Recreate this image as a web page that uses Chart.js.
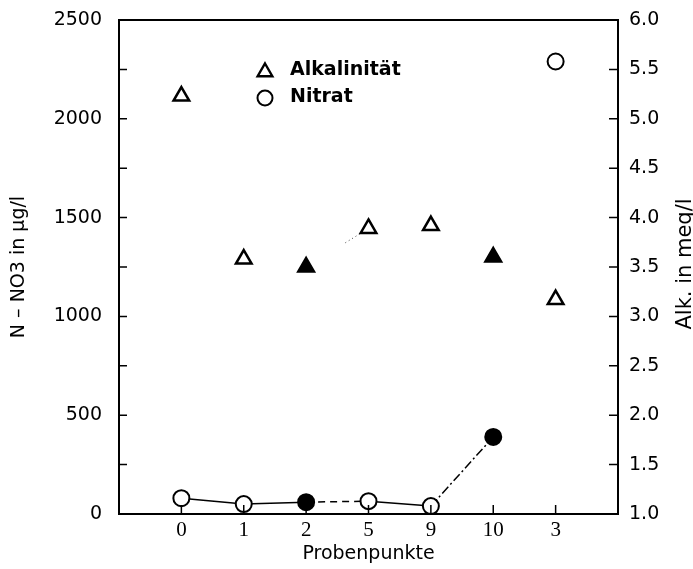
<!DOCTYPE html>
<html>
<head>
<meta charset="utf-8">
<script src="https://cdn.jsdelivr.net/npm/chart.js@4.4.0/dist/chart.umd.min.js"></script>
<style>
  html, body { margin: 0; padding: 0; background: #fff; }
</style>
</head>
<body>
<canvas id="chart" width="693" height="569"></canvas>
<script>
// Probenpunkte in the order they are plotted
var categories = ['0', '1', '2', '5', '9', '10', '3'];
// N - NO3 in ug/l (left axis)
var nitrate = [80, 50, 60, 65, 40, 390, 2290];
// Alkalinitaet in meq/l (right axis)
var alkalinity = [5.23, 3.58, 3.50, 3.89, 3.92, 3.60, 3.17];
// points that are drawn with a filled marker
var filledPoints = ['2', '10'];

// axis ranges
var nitrateMin = 0, nitrateMax = 2500, nitrateStep = 500, nitrateMinor = 250;
var alkMin = 1.0, alkMax = 6.0, alkStep = 0.5;

function toPoints(values) {
    return categories.map(function (c, i) { return { x: i, y: values[i] }; });
}
function markerFill() {
    return categories.map(function (c) { return filledPoints.indexOf(c) >= 0 ? '#000' : '#fff'; });
}

// nitrate line style between point i and i+1
function nitrateDash(ctx) {
    var i = ctx.p0DataIndex;
    if (i === 2) return [7, 5];
    if (i === 4) return [9, 3, 2, 3];
    return [];
}

// keep the plot box where the reference has it
function noScalePadding(s) {
    s.paddingTop = 0;
    s.paddingBottom = 0;
    s.paddingLeft = 0;
    s.paddingRight = 0;
}

// inner ticks, frame, right axis title and legend
var framePlugin = {
    id: 'frame',
    afterDraw: function (chart) {
        var ctx = chart.ctx;
        var a = chart.chartArea;
        var yL = chart.scales.yL, yR = chart.scales.yR, x = chart.scales.x;
        ctx.save();
        ctx.strokeStyle = '#000';
        ctx.lineWidth = 2;
        ctx.strokeRect(a.left, a.top, a.right - a.left, a.bottom - a.top);

        ctx.lineWidth = 1.5;
        ctx.beginPath();
        for (var v = nitrateMin + nitrateMinor; v < nitrateMax; v += nitrateMinor) {
            var py = yL.getPixelForValue(v);
            ctx.moveTo(a.left, py);
            ctx.lineTo(a.left + 8, py);
        }
        for (var w = alkMin + alkStep; w < alkMax; w += alkStep) {
            var qy = yR.getPixelForValue(w);
            ctx.moveTo(a.right, qy);
            ctx.lineTo(a.right - 9, qy);
        }
        for (var i = 0; i < categories.length; i++) {
            var px = x.getPixelForValue(i);
            ctx.moveTo(px, a.bottom);
            ctx.lineTo(px, a.bottom - 9);
        }
        ctx.stroke();

        // right axis title, reading bottom to top
        ctx.fillStyle = '#000';
        ctx.font = '21px "DejaVu Sans"';
        ctx.textAlign = 'center';
        ctx.textBaseline = 'middle';
        ctx.translate(686, 264);
        ctx.rotate(-Math.PI / 2);
        ctx.fillText('Alk. in meq/l', 0, 0);
        ctx.restore();

        // legend inside the plot
        ctx.save();
        ctx.strokeStyle = '#000';
        ctx.fillStyle = '#fff';
        ctx.lineWidth = 2.4;
        Chart.helpers.drawPoint(ctx, { pointStyle: 'triangle', radius: 8.5, borderWidth: 2.4 }, 265, 72);
        ctx.lineWidth = 2;
        Chart.helpers.drawPoint(ctx, { pointStyle: 'circle', radius: 7.5, borderWidth: 2 }, 265, 98);
        ctx.fillStyle = '#000';
        ctx.font = 'bold 19px "DejaVu Sans"';
        ctx.textAlign = 'left';
        ctx.textBaseline = 'middle';
        ctx.fillText('Alkalinität', 290, 70);
        ctx.fillText('Nitrat', 290, 97);
        ctx.restore();
    }
};

var ctx = document.getElementById('chart').getContext('2d');
var chart = new Chart(ctx, {
    type: 'scatter',
    data: {
        datasets: [{
            label: 'Nitrat',
            data: toPoints(nitrate),
            yAxisID: 'yL',
            showLine: true,
            borderColor: '#000',
            borderWidth: 1.5,
            pointStyle: 'circle',
            pointRadius: 8,
            pointHoverRadius: 8,
            pointBorderWidth: 2,
            pointBorderColor: '#000',
            pointBackgroundColor: markerFill(),
            segment: {
                borderDash: nitrateDash,
                borderColor: function (c) { return c.p0DataIndex === 5 ? 'transparent' : '#000'; }
            }
        }, {
            label: 'Alkalinität',
            data: toPoints(alkalinity),
            yAxisID: 'yR',
            showLine: true,
            borderWidth: 1,
            borderColor: 'transparent',
            pointStyle: 'triangle',
            pointRadius: 9,
            pointHoverRadius: 9,
            pointBorderWidth: 2.5,
            pointBorderColor: '#000',
            pointBackgroundColor: markerFill(),
            segment: {
                borderColor: function (c) { return c.p0DataIndex === 2 ? '#444' : 'transparent'; },
                borderDash: function (c) { return c.p0DataIndex === 2 ? [0.1, 46, 1, 3, 1, 3, 1, 3, 1, 3, 1, 200] : []; }
            }
        }]
    },
    options: {
        responsive: false,
        animation: false,
        layout: { padding: { top: 20, left: 0, right: 0, bottom: 0 } },
        plugins: {
            legend: { display: false },
            tooltip: { enabled: false }
        },
        scales: {
            x: {
                type: 'linear',
                position: 'bottom',
                min: -1,
                max: 7,
                grid: { display: false, drawTicks: false },
                border: { display: false },
                ticks: {
                    stepSize: 1,
                    autoSkip: false,
                    maxRotation: 0,
                    padding: 4,
                    color: '#000',
                    font: { family: '"Liberation Serif"', size: 21 },
                    callback: function (v) { return categories[v] !== undefined ? categories[v] : ''; }
                },
                title: {
                    display: true,
                    text: 'Probenpunkte',
                    color: '#000',
                    font: { family: '"DejaVu Sans"', size: 19 },
                    padding: 4
                },
                afterFit: function (s) { s.height = 55; noScalePadding(s); }
            },
            yL: {
                position: 'left',
                min: nitrateMin,
                max: nitrateMax,
                grid: { display: false, drawTicks: false },
                border: { display: false },
                ticks: {
                    stepSize: nitrateStep,
                    padding: 17,
                    color: '#000',
                    font: { family: '"DejaVu Sans"', size: 19 },
                    callback: function (v) { return String(v); }
                },
                title: {
                    display: true,
                    text: 'N – NO3 in µg/l',
                    color: '#000',
                    font: { family: '"DejaVu Sans"', size: 19 },
                    padding: 8
                },
                afterFit: function (s) { s.width = 119; noScalePadding(s); }
            },
            yR: {
                position: 'right',
                min: alkMin,
                max: alkMax,
                grid: { display: false, drawTicks: false },
                border: { display: false },
                ticks: {
                    stepSize: alkStep,
                    padding: 11,
                    color: '#000',
                    font: { family: '"DejaVu Sans"', size: 19 },
                    callback: function (v) { return v.toFixed(1); }
                },
                afterFit: function (s) { s.width = 75; noScalePadding(s); }
            }
        }
    },
    plugins: [framePlugin]
});
</script>
</body>
</html>
